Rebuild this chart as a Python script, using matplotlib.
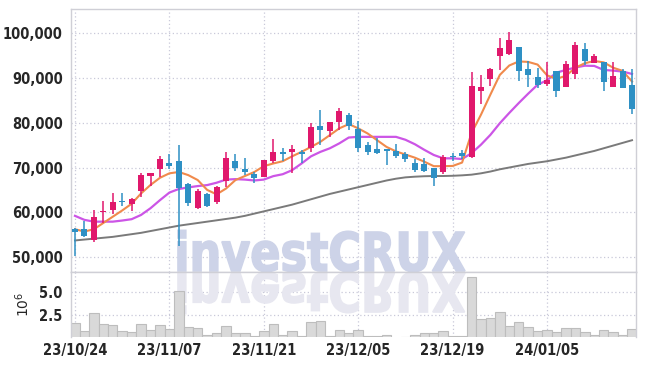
import numpy as np
import pandas as pd
import matplotlib
matplotlib.use('Agg')
import matplotlib.pyplot as plt
from matplotlib import font_manager
from matplotlib.textpath import TextPath
from matplotlib.patches import PathPatch
from matplotlib.font_manager import FontProperties
from matplotlib.transforms import Affine2D, IdentityTransform
from matplotlib.ticker import FuncFormatter

# trading days shown (KRX holidays removed)
dates = pd.bdate_range('2023-10-24', '2024-01-18', freq='C',
                       holidays=['2023-12-25', '2023-12-29', '2024-01-01'])
date_labels = list(dates.strftime('%y/%m/%d'))
tick_labels = ['23/10/24', '23/11/07', '23/11/21', '23/12/05', '23/12/19', '24/01/05']

opens = [56300, 56200, 53850, 60000, 60600, 62500, 61900, 64800, 68200, 69600,
         71100, 71400, 66400, 61000, 64100, 62400, 67000, 71550, 69600, 68500,
         67900, 71400, 73500, 73500, 73400, 74250, 79250, 78200, 80100, 81700,
         78600, 75000, 74100, 74100, 73700, 73100, 71050, 70750, 69800, 69000,
         72600, 73300, 72250, 87000, 89850, 94850, 95400, 96950, 92100, 90250,
         88700, 91650, 88100, 91000, 96500, 93450, 93650, 88100, 91600, 88450]
highs = [56400, 58000, 60400, 62600, 64200, 64400, 63100, 68800, 68800, 72500,
         73100, 75000, 66500, 65300, 64200, 65850, 73500, 73000, 72200, 69000,
         71700, 76400, 74400, 75000, 74000, 79900, 82800, 80200, 83400, 82100,
         80450, 75750, 76500, 74200, 75200, 73500, 71800, 72200, 69800, 72750,
         73200, 73950, 91300, 90600, 92200, 98950, 100200, 97000, 93900, 92300,
         93500, 91650, 93900, 98100, 97800, 95300, 93650, 93500, 92000, 92000]
lows = [50200, 54500, 53300, 57600, 59600, 61400, 60200, 63500, 65900, 67900,
        69600, 52400, 61300, 60800, 61100, 61850, 65600, 69300, 68300, 66600,
        67800, 70900, 71400, 68800, 71100, 73500, 75100, 76900, 78400, 78300,
        73500, 72800, 73000, 70500, 72200, 71300, 69000, 69000, 65900, 68650,
        71350, 71900, 72200, 84300, 88300, 91700, 95150, 89350, 88000, 87700,
        88300, 85850, 88000, 89700, 92900, 93400, 87200, 87900, 87700, 81900]
closes = [55500, 54800, 58900, 60200, 62300, 62300, 63000, 68300, 68750, 71800,
          70400, 65500, 62150, 64750, 61500, 65550, 72200, 69950, 69000, 67700,
          71600, 73400, 73100, 74050, 73000, 79050, 78350, 80150, 82600, 79300,
          74400, 73500, 73200, 73750, 72600, 71900, 69400, 69300, 67700, 72450,
          72250, 72600, 88300, 88050, 92100, 96700, 98600, 91500, 90600, 88500,
          89600, 87150, 93200, 97400, 93700, 94950, 89200, 90450, 87700, 83000]

# volume in millions of shares
volumes = [1.74, 0.80, 2.73, 1.60, 1.48, 0.80, 0.68, 1.60, 0.90, 1.48,
           1.00, 5.15, 1.25, 1.14, 0.45, 0.57, 1.36, 0.57, 0.57, 0.34,
           0.80, 1.60, 0.45, 0.80, 0.34, 1.82, 1.93, 0.34, 0.90, 0.57,
           0.90, 0.34, 0.34, 0.45, 0.11, 0.23, 0.45, 0.57, 0.57, 0.80,
           0.34, 0.34, 6.60, 2.16, 2.27, 2.84, 1.36, 1.82, 1.25, 0.80,
           0.90, 0.68, 1.14, 1.14, 0.68, 0.45, 0.90, 0.68, 0.45, 1.00]

# moving averages
ma5 = [56200, 55700, 56200, 57600, 59000, 60400, 61900, 64200, 66100, 67700,
       68700, 69000, 68300, 67200, 65000, 64000, 65300, 67200, 68100, 69000,
       70300, 70900, 71400, 72500, 73500, 74600, 75750, 77250, 78750, 79700,
       78750, 77600, 76100, 74600, 73600, 72900, 72200, 71300, 70300, 70300,
       70350, 71100, 77700, 81800, 86300, 90700, 92800, 93700, 93600, 93000,
       90600, 89800, 90500, 92300, 93300, 93800, 93500, 92300, 91600, 89200]
ma20 = [59200, 58300, 57900, 57900, 57900, 58150, 58450, 59400, 60900, 62700,
        64400, 65200, 65560, 65850, 66070, 66600, 67300, 67400, 67300, 67100,
        67300, 68070, 68500, 69400, 70900, 72500, 73500, 74300, 75400, 76700,
        76850, 76850, 76850, 76850, 76850, 76200, 75200, 73950, 72800, 72050,
        72050, 71900, 73200, 75100, 77300, 79900, 82200, 84400, 86500, 88500,
        89500, 91200, 91800, 92350, 92750, 92700, 91800, 91650, 91450, 90900]
ma60 = [53700, 53900, 54100, 54300, 54500, 54800, 55100, 55400, 55800, 56200,
        56600, 57000, 57300, 57600, 57900, 58200, 58500, 58800, 59200, 59700,
        60200, 60700, 61200, 61700, 62300, 62900, 63500, 64100, 64600, 65100,
        65600, 66100, 66600, 67100, 67500, 67800, 67950, 68050, 68100, 68100,
        68150, 68250, 68400, 68700, 69100, 69600, 70000, 70400, 70800, 71100,
        71400, 71800, 72200, 72700, 73200, 73700, 74300, 74900, 75500, 76100]

RED = '#e0186c'
BLUE = '#2e90c4'
GRID = '#c9c9d9'
SPINE = '#cfcfd6'
TXT = '#262626'

# narrow bold face for the axis labels, if one is installed
narrow = None
for key in ('LiberationSansNarrow-Bold', 'DejaVuSansCondensed-Bold', 'RobotoCondensed-Bold'):
    for f in font_manager.fontManager.ttflist:
        if key.lower() in f.fname.replace(' ', '').lower():
            narrow = f.fname
            break
    if narrow:
        break
if narrow:
    lab_font = FontProperties(fname=narrow, size=10.5)
else:
    lab_font = FontProperties(family='DejaVu Sans', weight='bold', stretch='condensed', size=9.5)

x = np.arange(len(date_labels))
o = np.array(opens); h = np.array(highs); l = np.array(lows); c = np.array(closes)
up = c >= o
colors = np.where(up, RED, BLUE)

fig = plt.figure(figsize=(6.45, 3.66), dpi=100)
ax = fig.add_axes([71 / 645, 1 - 272 / 366, 565 / 645, 263 / 366])
axv = fig.add_axes([71 / 645, 1 - 337 / 366, 565 / 645, 65 / 366], sharex=ax)

for a in (ax, axv):
    a.set_axisbelow(True)
    a.grid(True, color=GRID, linestyle=(0, (1, 2)), linewidth=0.9)
    a.tick_params(length=0, colors=TXT)
    for s in a.spines.values():
        s.set_color(SPINE)
        s.set_linewidth(1.0)
axv.spines['bottom'].set_visible(False)

# watermark and its reflection
fp = FontProperties(family='DejaVu Sans', weight='bold')
tp = TextPath((0, 0), 'investCRUX', size=1, prop=fp)
ext = tp.get_extents()
sx = 287 / ext.width
sy = 39 / 0.729
base_y = 366 - 272
t_main = Affine2D().translate(-ext.x0, 0).scale(sx, sy).translate(178, base_y + 1)
t_refl = Affine2D().translate(-ext.x0, 0).scale(sx, -sy).translate(178, base_y - 1)
wm = PathPatch(t_main.transform_path(tp), transform=IdentityTransform(),
               facecolor='#cdd3e8', edgecolor='#cdd3e8', lw=1.2, zorder=0.8)
wr = PathPatch(t_refl.transform_path(tp), transform=IdentityTransform(),
               facecolor='#e7e7f0', edgecolor='#e7e7f0', lw=1.2, zorder=0.8)
ax.add_artist(wm)
axv.add_artist(wr)
wm.set_clip_box(ax.bbox)
wr.set_clip_box(axv.bbox)

# moving averages
ax.plot(x, ma60, color='#7a7a7a', lw=1.4, zorder=2)
ax.plot(x, ma20, color='#cc55e6', lw=1.6, zorder=2)
ax.plot(x, ma5, color='#f08a4c', lw=1.5, zorder=2)

# candles
ax.vlines(x, l, h, colors=colors, lw=1.1, zorder=3)
body = np.maximum(np.abs(c - o), 220)
ax.bar(x, body, bottom=np.minimum(o, c), width=0.64, color=colors, linewidth=0, zorder=4)

ax.set_ylim(46650, 105420)
ax.set_yticks([50000, 60000, 70000, 80000, 90000, 100000])
ax.yaxis.set_major_formatter(FuncFormatter(lambda v, p: f'{int(v):,}'))
ax.tick_params(axis='x', labelbottom=False)
ax.tick_params(axis='y', pad=6)

# volume
axv.bar(x, volumes, width=1.0, color='#d9d9d9', edgecolor='#bdbdbd', linewidth=0.8, zorder=2)
axv.set_ylim(0.19, 7.14)
axv.set_yticks([2.5, 5.0])
axv.yaxis.set_major_formatter(FuncFormatter(lambda v, p: f'{v:.1f}'))
axv.set_ylabel('$10^6$', fontsize=10, color=TXT)
axv.yaxis.set_label_coords(-0.069, 0.5)
axv.tick_params(axis='y', pad=6)

tick_pos = [date_labels.index(t) for t in tick_labels]
axv.set_xticks(tick_pos)
axv.set_xticklabels(tick_labels)
axv.tick_params(axis='x', pad=4)
axv.set_xlim(-0.42, 59.42)

for t in ax.get_yticklabels() + axv.get_yticklabels() + axv.get_xticklabels():
    t.set_fontproperties(lab_font)

fig.savefig('out.png', dpi=100)
